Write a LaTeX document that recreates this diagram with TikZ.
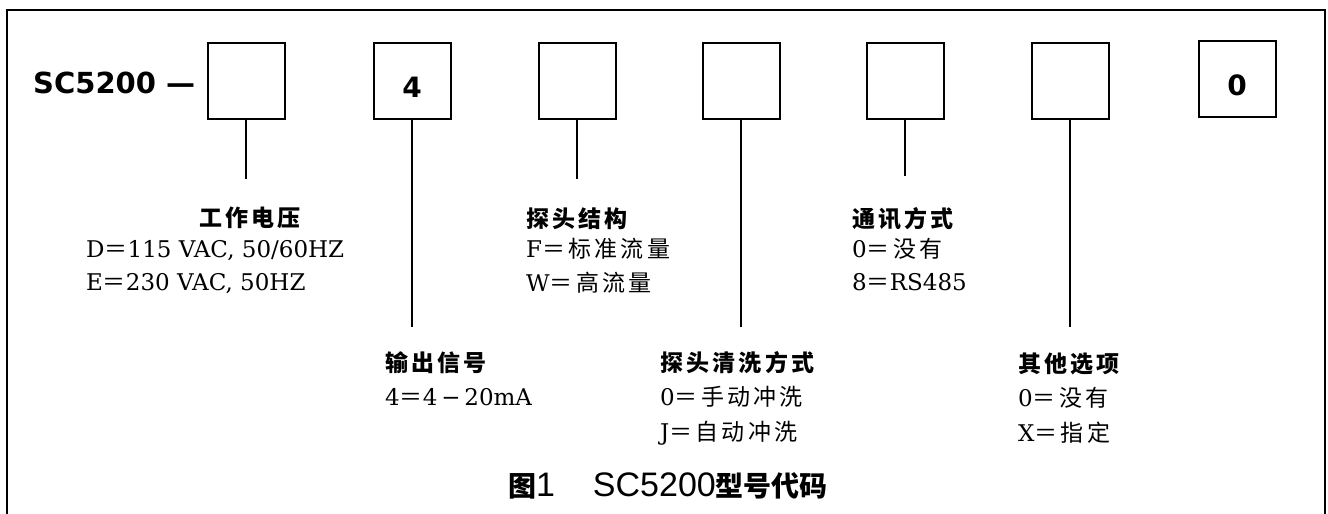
\documentclass[tikz,border=0pt]{standalone}
\usepackage{fontspec}
\setmainfont{DejaVu Serif}
\newfontfamily\cjk[LetterSpace=14]{Noto Sans CJK SC}
\newfontfamily\cjkcap{Noto Sans CJK SC}
\newfontfamily\heavy{DejaVu Sans}
\newfontfamily\capsans{Liberation Sans}
\newcommand{\zh}[1]{{\cjk\fontsize{23}{23}\selectfont #1}}
\newcommand{\eq}{\zh{＝}}
\tikzset{
  codebox/.style={draw, line width=2pt, minimum width=77pt, minimum height=76pt, inner sep=0pt},
  lead/.style={line width=1.6pt},
  digit/.style={font=\heavy\bfseries\fontsize{28}{28}\selectfont, inner sep=0pt, anchor=base},
  head/.style={font=\cjk\bfseries\fontsize{23}{23}\selectfont, inner sep=0pt, anchor=base west},
  item/.style={font=\fontsize{23}{23}\selectfont, inner sep=0pt, anchor=base west},
}
\begin{document}
\begin{tikzpicture}[x=1pt, y=-1pt]
\useasboundingbox (0,0) rectangle (1328,514);
\draw[line width=1.6pt] (7,514) -- (7,10) -- (1325,10) -- (1325,514);
\node[inner sep=0pt, anchor=base west, font=\heavy\bfseries\fontsize{29}{29}\selectfont] (model) at (33,93) {SC5200 —};
\foreach \i/\x/\y in {1/246/81, 2/412/81, 3/577/81, 4/741/81, 5/905/81, 6/1070/81, 7/1237/79}
  \node[codebox] (b\i) at (\x,\y) {};
\node[digit] (d2) at (412,97) {4};
\node[digit] (d7) at (1237,95) {0};
\foreach \i/\l in {1/59, 2/207, 3/59, 4/207, 5/56, 6/207}
  \draw[lead] (b\i.south) -- ++(0,\l) coordinate (e\i);
\node[head, anchor=base] (h1) at (250,226) {工作电压};
\node[item] (h1a) at (86,257) {D\eq115 VAC, 50/60HZ};
\node[item] (h1b) at (86,290) {E\eq230 VAC, 50HZ};
\node[head] (h2) at (385,371) {输出信号};
\node[item] (h2a) at (385,405) {4\eq 4\,−\,20mA};
\node[head] (h3) at (526,227) {探头结构};
\node[item] (h3a) at (526,257) {F\eq\zh{标准流量}};
\node[item] (h3b) at (526,291) {W\eq\zh{高流量}};
\node[head] (h4) at (660,371) {探头清洗方式};
\node[item] (h4a) at (660,405) {0\eq\zh{手动冲洗}};
\node[item] (h4b) at (660,440) {J\eq\zh{自动冲洗}};
\node[head] (h5) at (852,227) {通讯方式};
\node[item] (h5a) at (852,257) {0\eq\zh{没有}};
\node[item] (h5b) at (852,290) {8\eq RS485};
\node[head] (h6) at (1018,372) {其他选项};
\node[item] (h6a) at (1018,406) {0\eq\zh{没有}};
\node[item] (h6b) at (1018,441) {X\eq\zh{指定}};
\node[anchor=base, inner sep=0pt] (cap) at (668,496) {\cjkcap\bfseries\fontsize{28}{28}\selectfont 图\capsans\mdseries\fontsize{34}{34}\selectfont 1\hspace{38pt}SC5200\cjkcap\bfseries\fontsize{28}{28}\selectfont 型号代码};
\end{tikzpicture}
\end{document}
